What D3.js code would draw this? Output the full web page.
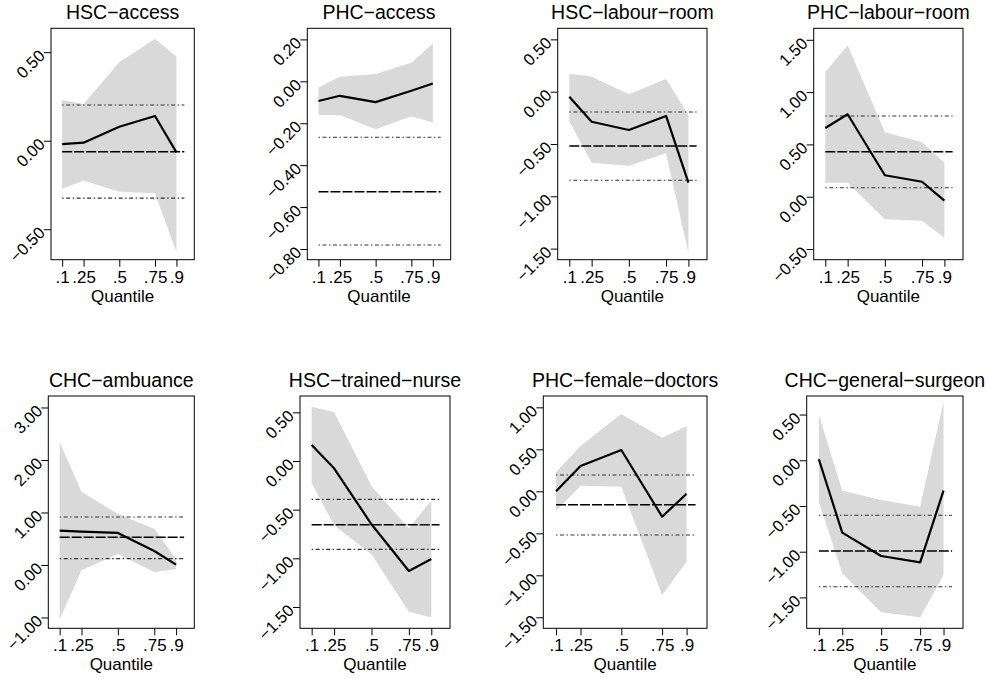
<!DOCTYPE html>
<html>
<head>
<meta charset="utf-8">
<title>Quantile regression coefficients</title>
<script src="https://d3js.org/d3.v7.min.js"></script>
<style type="text/css">
body { margin: 0; background: #fff; }
svg text { font-family: "Liberation Sans", Arial, Helvetica, sans-serif; fill: #000; }
.axis path, .axis line { stroke: #000; stroke-width: 1; }
</style>
</head>
<body>
<div id="chart"></div>
<script>
// quantiles on the x axis
var quantiles = [0.1, 0.25, 0.5, 0.75, 0.9];
var quantileLabels = [".1", ".25", ".5", ".75", ".9"];

var panelTitles = ["HSC\u2212access", "PHC\u2212access", "HSC\u2212labour\u2212room", "PHC\u2212labour\u2212room",
                   "CHC\u2212ambuance", "HSC\u2212trained\u2212nurse", "PHC\u2212female\u2212doctors", "CHC\u2212general\u2212surgeon"];

// quantile regression estimates (solid line)
var qrCoef = [
  [-0.019, -0.011, 0.079, 0.140, -0.066],
  [-0.094, -0.069, -0.099, -0.045, -0.010],
  [-0.048, -0.287, -0.366, -0.232, -0.870],
  [0.657, 0.788, 0.205, 0.143, -0.038],
  [0.654, 0.635, 0.610, 0.267, 0.006],
  [0.164, -0.075, -0.650, -1.130, -1.007],
  [0.000, 0.301, 0.492, -0.302, -0.029],
  [0.011, -0.792, -1.047, -1.116, -0.333]
];
// confidence band, upper and lower
var qrUpper = [
  [0.230, 0.207, 0.443, 0.575, 0.475],
  [-0.029, 0.022, 0.035, 0.089, 0.179],
  [0.172, 0.143, -0.025, 0.121, -0.223],
  [1.192, 1.447, 0.616, 0.520, 0.325],
  [2.337, 1.397, 0.971, 0.692, 0.108],
  [0.558, 0.500, -0.257, -0.692, -0.408],
  [0.226, 0.539, 0.920, 0.638, 0.774],
  [0.496, -0.333, -0.434, -0.508, 0.641]
];
var qrLower = [
  [-0.271, -0.224, -0.288, -0.297, -0.627],
  [-0.161, -0.161, -0.229, -0.167, -0.197],
  [-0.280, -0.679, -0.707, -0.589, -1.539],
  [0.134, 0.134, -0.216, -0.229, -0.392],
  [-1.035, -0.102, 0.210, -0.133, -0.082],
  [-0.226, -0.661, -0.959, -1.549, -1.607],
  [-0.231, 0.067, 0.055, -1.234, -0.838],
  [-0.453, -1.236, -1.663, -1.718, -1.255]
];
// OLS estimate and its interval (dashed / dotted)
var olsCoef = [-0.062, -0.527, -0.519, 0.430, 0.527, -0.654, -0.159, -0.992];
var olsUpper = [0.202, -0.267, -0.194, 0.772, 0.914, -0.394, 0.194, -0.602];
var olsLower = [-0.324, -0.781, -0.847, 0.086, 0.121, -0.908, -0.520, -1.383];
var olsSpan = [0.1, 0.955];

var yTicks = [
  [0.5, 0, -0.5],
  [0.2, 0, -0.2, -0.4, -0.6, -0.8],
  [0.5, 0, -0.5, -1, -1.5],
  [1.5, 1, 0.5, 0, -0.5],
  [3, 2, 1, 0, -1],
  [0.5, 0, -0.5, -1, -1.5],
  [1, 0.5, 0, -0.5, -1, -1.5],
  [0.5, 0, -0.5, -1, -1.5]
];

// plot boxes (pixels) and y ranges
var boxes = [
  {x0: 51, x1: 194.3, y0: 28.3, y1: 259.7, lo: -0.672, hi: 0.635},
  {x0: 307.3, x1: 450.7, y0: 28.3, y1: 259.7, lo: -0.851, hi: 0.253},
  {x0: 557.7, x1: 707, y0: 28.3, y1: 259.7, lo: -1.606, hi: 0.606},
  {x0: 813.7, x1: 963, y0: 28.3, y1: 259.7, lo: -0.602, hi: 1.610},
  {x0: 48.3, x1: 194.3, y0: 396, y1: 628.3, lo: -1.206, hi: 3.219},
  {x0: 300, x1: 450, y0: 396, y1: 628.3, lo: -1.719, hi: 0.668},
  {x0: 543.3, x1: 707, y0: 396, y1: 628.3, lo: -1.631, hi: 1.135},
  {x0: 806.7, x1: 963, y0: 396, y1: 628.3, lo: -1.838, hi: 0.703}
];

var svg = d3.select("#chart")
  .append("svg")
    .attr("width", 988)
    .attr("height", 679);

var fmt = d3.format(".2f");

boxes.forEach(function(b, p) {
  var x = d3.scaleLinear().domain([0.022, 1.025]).range([b.x0, b.x1]);
  var y = d3.scaleLinear().domain([b.lo, b.hi]).range([b.y1, b.y0]);
  var g = svg.append("g");

  var rows = quantiles.map(function(q, i) {
    return {q: q, est: qrCoef[p][i], up: qrUpper[p][i], lo: qrLower[p][i]};
  });

  // confidence band
  g.append("path")
    .datum(rows)
    .attr("fill", "#d9d9d9")
    .attr("d", d3.area()
      .x(function(d) { return x(d.q); })
      .y0(function(d) { return y(d.lo); })
      .y1(function(d) { return y(d.up); }));

  // OLS lines
  var refs = [
    {v: olsUpper[p], dash: "1.5,2.5,4,2.5", w: 1.1, c: "#333"},
    {v: olsLower[p], dash: "1.5,2.5,4,2.5", w: 1.1, c: "#333"},
    {v: olsCoef[p], dash: "10,2", w: 1.5, c: "#000"}
  ];
  refs.forEach(function(r) {
    g.append("line")
      .attr("x1", x(olsSpan[0])).attr("x2", x(olsSpan[1]))
      .attr("y1", y(r.v)).attr("y2", y(r.v))
      .attr("stroke", r.c)
      .attr("stroke-width", r.w)
      .attr("stroke-dasharray", r.dash);
  });

  // quantile estimates
  g.append("path")
    .datum(rows)
    .attr("fill", "none")
    .attr("stroke", "#000")
    .attr("stroke-width", 2.2)
    .attr("stroke-linejoin", "round")
    .attr("d", d3.line()
      .x(function(d) { return x(d.q); })
      .y(function(d) { return y(d.est); }));

  // box
  g.append("rect")
    .attr("x", b.x0).attr("y", b.y0)
    .attr("width", b.x1 - b.x0).attr("height", b.y1 - b.y0)
    .attr("fill", "none")
    .attr("stroke", "#000")
    .attr("stroke-width", 1);

  // x axis
  var xAxis = g.append("g")
    .attr("class", "axis")
    .attr("transform", "translate(0," + b.y1 + ")")
    .call(d3.axisBottom(x)
      .tickValues(quantiles)
      .tickFormat(function(d, i) { return quantileLabels[i]; })
      .tickSize(7)
      .tickSizeOuter(0)
      .tickPadding(4));
  xAxis.select(".domain").remove();
  xAxis.selectAll("text").style("font-size", "17px").attr("font-family", null);

  // y axis
  var yAxis = g.append("g")
    .attr("class", "axis")
    .attr("transform", "translate(" + b.x0 + ",0)")
    .call(d3.axisLeft(y)
      .tickValues(yTicks[p])
      .tickFormat(fmt)
      .tickSize(7)
      .tickSizeOuter(0));
  yAxis.select(".domain").remove();
  yAxis.selectAll("text")
    .attr("x", 0)
    .attr("dy", "0.35em")
    .attr("transform", "translate(-9,0) rotate(-45)")
    .attr("text-anchor", "end")
    .attr("font-family", null)
    .style("font-size", "16.5px");

  // title
  g.append("text")
    .attr("x", (b.x0 + b.x1) / 2)
    .attr("y", b.y0 - 9.5)
    .attr("text-anchor", "middle")
    .style("font-size", "19.5px")
    .text(panelTitles[p]);

  g.append("text")
    .attr("x", (b.x0 + b.x1) / 2)
    .attr("y", b.y1 + 42)
    .attr("text-anchor", "middle")
    .style("font-size", "17px")
    .text("Quantile");
});
</script>
</body>
</html>
